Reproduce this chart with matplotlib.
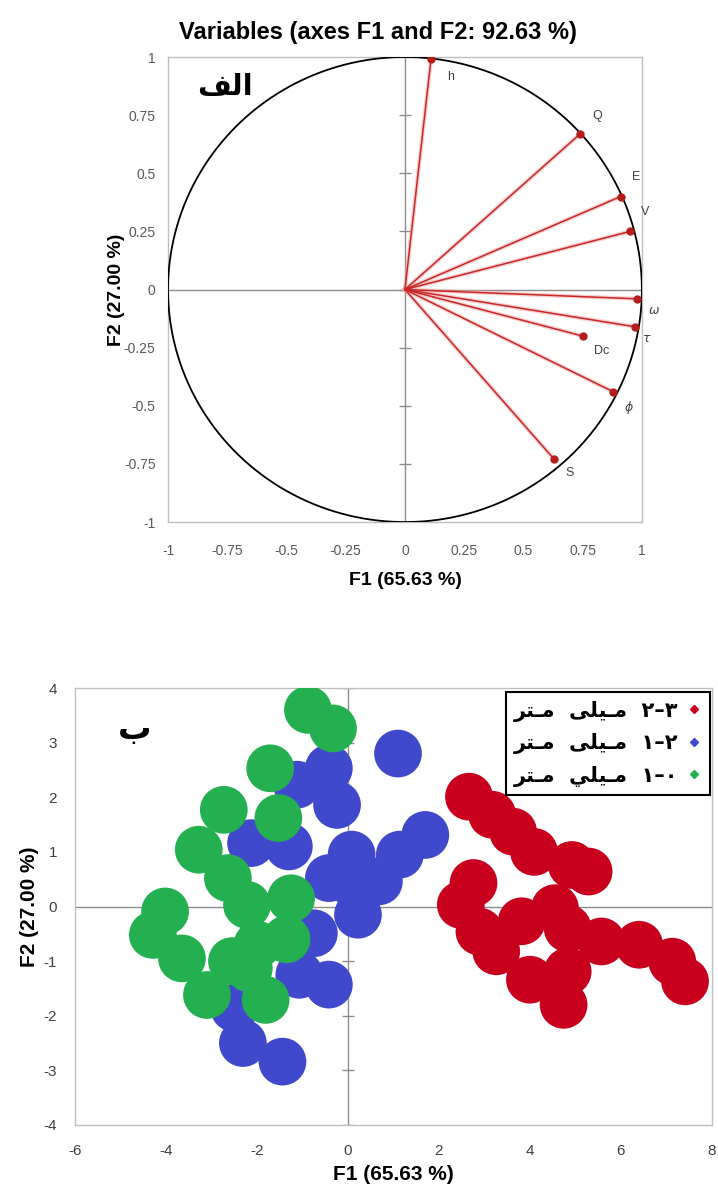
import matplotlib
matplotlib.use("Agg")
import matplotlib.pyplot as plt
from matplotlib.lines import Line2D
import numpy as np

# --- top panel: variable loadings on F1/F2 ---
var_names = ["h", "Q", "E", "V", r"$\omega$", r"$\tau$", "Dc", r"$\phi$", "S"]
var_f1 = [0.11, 0.74, 0.91, 0.95, 0.98, 0.97, 0.75, 0.88, 0.63]
var_f2 = [0.99, 0.67, 0.40, 0.25, -0.04, -0.16, -0.20, -0.44, -0.73]
# label offsets (points) next to each arrow tip
label_offsets = [(14, -13), (12, 13), (11, 14), (11, 14), (12, -9),
                 (9, -9), (14, -11), (11, -11), (11, -10)]

top_ticks = [-1, -0.75, -0.5, -0.25, 0, 0.25, 0.5, 0.75, 1]
top_ticklabels = ["-1", "-0.75", "-0.5", "-0.25", "0", "0.25", "0.5", "0.75", "1"]

# --- bottom panel: observations, blob centres per particle size class ---
red_f1 = [2.66, 3.17, 3.63, 4.09, 4.92, 5.29, 2.76, 2.48, 2.89, 3.26,
          3.82, 4.55, 4.83, 5.57, 6.40, 7.13, 7.41, 4.00, 4.74, 4.83]
red_f2 = [2.01, 1.68, 1.37, 1.00, 0.76, 0.64, 0.43, 0.03, -0.46, -0.82,
          -0.27, -0.03, -0.40, -0.64, -0.70, -1.01, -1.37, -1.34, -1.80, -1.19]

blue_f1 = [1.10, -0.42, -1.12, -0.24, -2.13, -1.30, 0.08, 1.70, 1.14, -0.42,
           0.68, 0.22, -0.75, -1.07, -0.42, -2.50, -2.31, -1.44, 0.13]
blue_f2 = [2.80, 2.53, 2.23, 1.86, 1.16, 1.10, 0.95, 1.31, 0.95, 0.52,
           0.46, -0.15, -0.49, -1.25, -1.43, -1.86, -2.50, -2.84, 0.40]

green_f1 = [-0.88, -0.33, -1.71, -2.73, -1.53, -3.28, -2.64, -2.22, -1.25,
            -4.02, -4.29, -3.65, -1.99, -2.18, -3.10, -1.81, -1.35, -2.55]
green_f2 = [3.60, 3.26, 2.53, 1.77, 1.62, 1.04, 0.52, 0.03, 0.15,
            -0.09, -0.52, -0.95, -0.70, -1.13, -1.62, -1.71, -0.60, -1.00]

bot_xticks = [-6, -4, -2, 0, 2, 4, 6, 8]
bot_yticks = [-4, -3, -2, -1, 0, 1, 2, 3, 4]

# legend labels, written in visual order with presentation forms
# (matplotlib does no Arabic shaping / RTL)
lbl_red = "\uFEAE\uFE98\u0640\uFEE3  \uFBFD\uFEE0\uFBFF\u0640\uFEE3  \u06F2\u2013\u06F3"
lbl_blue = "\uFEAE\uFE98\u0640\uFEE3  \uFBFD\uFEE0\uFBFF\u0640\uFEE3  \u06F1\u2013\u06F2"
lbl_green = "\uFEAE\uFE98\u0640\uFEE3  \uFEF2\uFEE0\uFBFF\u0640\uFEE3  \u06F1\u2013\u06F0"
panel_a = "\uFED2\uFEDF\uFE8D"   # الف
panel_b = "\u0628"               # ب

RED = "#C8001E"
BLUE = "#4048CC"
GREEN = "#24B050"
VEC = "#C62828"
FRAME = "#BFBFBF"
TICKC = "#595959"

plt.rcParams["font.family"] = ["Liberation Sans", "DejaVu Sans"]
plt.rcParams["axes.unicode_minus"] = False

fig = plt.figure(figsize=(7.18, 11.93), dpi=100)

# ---------------- top panel ----------------
ax1 = fig.add_axes([0.234, 0.5624, 0.660, 0.3898])
ax1.set_xlim(-1, 1)
ax1.set_ylim(-1, 1)

theta = np.linspace(0, 2 * np.pi, 400)
ax1.plot(np.cos(theta), np.sin(theta), color="black", lw=1.3, zorder=3)
ax1.axhline(0, color="#8C8C8C", lw=1, zorder=1)
ax1.axvline(0, color="#8C8C8C", lw=1, zorder=1)
ax1.plot(np.zeros(len(top_ticks)), top_ticks, ls="none", marker="_",
         markersize=9, color="#8C8C8C", zorder=1)

for name, x, y, off in zip(var_names, var_f1, var_f2, label_offsets):
    ax1.plot([0, x], [0, y], color="#F2A0A0", lw=3, alpha=0.5, zorder=2)
    ax1.plot([0, x], [0, y], color=VEC, lw=1.1, zorder=4)
    ax1.plot(x, y, "o", color="#B71C1C", markersize=5, zorder=5)
    ax1.annotate(name, (x, y), textcoords="offset points", xytext=off,
                 ha="center", va="center", fontsize=9, color="#404040")

ax1.set_xticks(top_ticks)
ax1.set_xticklabels(top_ticklabels)
ax1.set_yticks(top_ticks)
ax1.set_yticklabels(top_ticklabels)
ax1.tick_params(length=0, labelsize=10, colors=TICKC)
ax1.tick_params(axis="x", pad=16)
ax1.tick_params(axis="y", pad=9)
for sp in ax1.spines.values():
    sp.set_color(FRAME)
    sp.set_linewidth(1)

ax1.set_title("Variables (axes F1 and F2: 92.63 %)", fontsize=17,
              fontweight="bold", pad=13, x=0.443)
ax1.set_xlabel("F1 (65.63 %)", fontsize=14, fontweight="bold", labelpad=10)
ax1.set_ylabel("F2 (27.00 %)", fontsize=14, fontweight="bold", labelpad=-1)
ax1.text(0.12, 0.935, panel_a, transform=ax1.transAxes, ha="center",
         va="center", fontsize=21, fontweight="bold", family="DejaVu Sans")

# ---------------- bottom panel ----------------
ax2 = fig.add_axes([0.1045, 0.0570, 0.887, 0.3663])
ax2.set_xlim(-6, 8)
ax2.set_ylim(-4, 4)
ax2.axhline(0, color="#8C8C8C", lw=1, zorder=1)
ax2.axvline(0, color="#8C8C8C", lw=1, zorder=1)
ax2.plot(np.zeros(len(bot_yticks)), bot_yticks, ls="none", marker="_",
         markersize=9, color="#8C8C8C", zorder=1)

blob = 1180
ax2.scatter(blue_f1, blue_f2, s=blob, color=BLUE, edgecolors="none", zorder=2)
ax2.scatter(green_f1, green_f2, s=blob, color=GREEN, edgecolors="none", zorder=3)
ax2.scatter(red_f1, red_f2, s=blob, color=RED, edgecolors="none", zorder=3)

ax2.set_xticks(bot_xticks)
ax2.set_yticks(bot_yticks)
ax2.tick_params(length=0, labelsize=11, colors="#404040")
ax2.tick_params(axis="x", pad=14)
ax2.tick_params(axis="y", pad=13)
for sp in ax2.spines.values():
    sp.set_color(FRAME)
    sp.set_linewidth(1)
ax2.set_xlabel("F1 (65.63 %)", fontsize=15, fontweight="bold", labelpad=5)
ax2.set_ylabel("F2 (27.00 %)", fontsize=15, fontweight="bold", labelpad=3)
ax2.text(0.094, 0.904, panel_b, transform=ax2.transAxes, ha="center",
         va="center", fontsize=24, fontweight="bold", family="DejaVu Sans")

handles = [Line2D([], [], ls="none", marker="D", markersize=4, color=c)
           for c in (RED, BLUE, GREEN)]
leg = ax2.legend(handles, [lbl_red, lbl_blue, lbl_green], loc="upper right",
                 bbox_to_anchor=(0.997, 0.99), borderaxespad=0,
                 markerfirst=False, handlelength=0.7, handletextpad=0.4,
                 labelspacing=0.55, borderpad=0.4, fancybox=False,
                 framealpha=1, edgecolor="black",
                 prop=dict(family="DejaVu Sans", weight="bold", size=15))
leg.get_frame().set_linewidth(1.5)
leg.set_zorder(10)

fig.savefig("out.png", dpi=100)
